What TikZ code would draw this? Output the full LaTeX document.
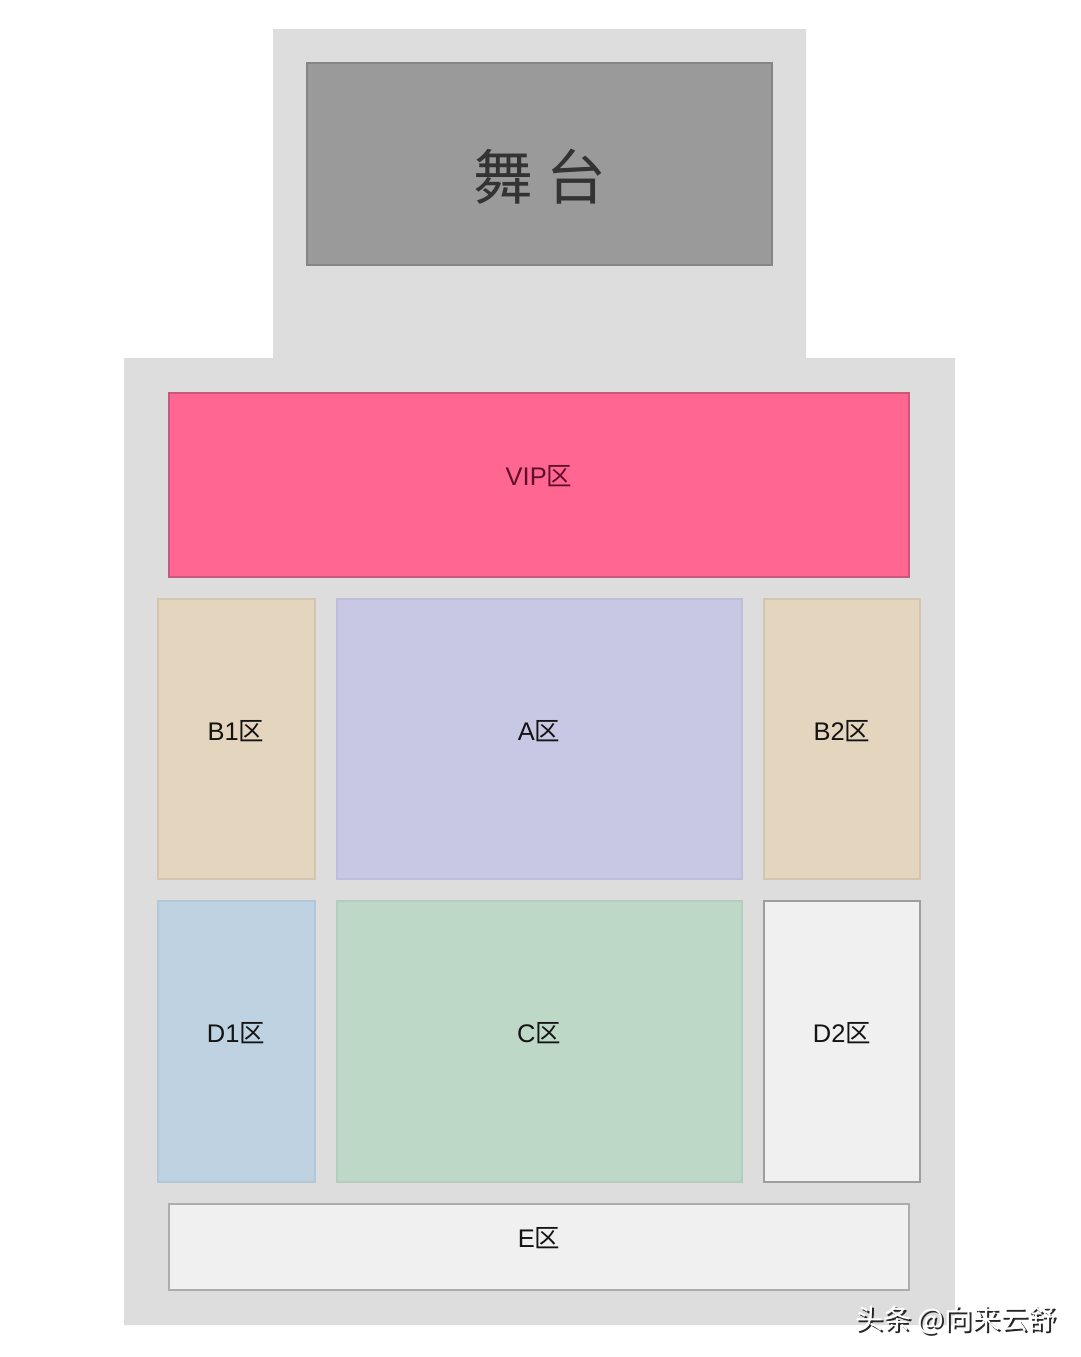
\documentclass[tikz,border=0pt]{standalone}
\usepackage{fontspec}
\setmainfont{Liberation Sans}
\newfontfamily\cjk{Noto Sans CJK SC}
\usepackage{tikz}
\usetikzlibrary{positioning}
\definecolor{hallgray}{HTML}{DDDDDD}
\definecolor{stagegray}{HTML}{9A9A9A}
\definecolor{stageline}{HTML}{858585}
\definecolor{vippink}{HTML}{FF6690}
\definecolor{vipline}{HTML}{C9587A}
\definecolor{viptext}{HTML}{5E0F2C}
\definecolor{sandzone}{HTML}{E3D5BE}
\definecolor{lilaczone}{HTML}{C8C8E4}
\definecolor{bluezone}{HTML}{BED2E2}
\definecolor{greenzone}{HTML}{BED8C8}
\definecolor{palezone}{HTML}{F0F0F0}
\tikzstyle{zone}=[line width=0.6pt]
\tikzstyle{zonelabel}=[font=\fontsize{14.5}{16}\selectfont, text=black!92]

\begin{document}
\begin{tikzpicture}[x=0.02cm, y=-0.02cm]

\useasboundingbox[fill=white] (0,0) rectangle (1080,1357);

% hall
\fill[hallgray] (273,29) -- (806,29) -- (806,358) -- (955,358) -- (955,1325)
  -- (124,1325) -- (124,358) -- (273,358) -- cycle;

% stage
\draw[zone, fill=stagegray, draw=stageline] (307,63) rectangle (772,265);
\node[font=\cjk\fontsize{34}{40}\selectfont, text=black!80] (stage) at (540,177) {舞 台};

% VIP
\draw[zone, fill=vippink, draw=vipline] (169,393) rectangle (909,577);
\node[zonelabel, text=viptext] (vip) at (539,476) {VIP\cjk{区}};

% A, B
\draw[zone, fill=sandzone, draw=sandzone!93!black] (158,599) rectangle (315,879);
\node[zonelabel] (bone) at (236,731) {B1\cjk{区}};
\draw[zone, fill=lilaczone, draw=lilaczone!95!black] (337,599) rectangle (742,879);
\node[zonelabel] (azone) at (539,731) {A\cjk{区}};
\draw[zone, fill=sandzone, draw=sandzone!93!black] (764,599) rectangle (920,879);
\node[zonelabel] (btwo) at (842,731) {B2\cjk{区}};

% C, D
\draw[zone, fill=bluezone, draw=bluezone!95!black] (158,901) rectangle (315,1182);
\node[zonelabel] (done) at (236,1033) {D1\cjk{区}};
\draw[zone, fill=greenzone, draw=greenzone!95!black] (337,901) rectangle (742,1182);
\node[zonelabel] (czone) at (539,1033) {C\cjk{区}};
\draw[zone, fill=palezone, draw=black!38] (764,901) rectangle (920,1182);
\node[zonelabel] (dtwo) at (842,1033) {D2\cjk{区}};

% E
\draw[zone, fill=palezone, draw=black!32, line width=1pt] (169,1204) rectangle (909,1290);
\node[zonelabel] (ezone) at (539,1238) {E\cjk{区}};

% watermark
\node[font=\cjk\fontsize{16}{18}\selectfont, text=black!85] at (958,1322) {头条 @向来云舒};
\node[font=\cjk\fontsize{16}{18}\selectfont, text=white] (mark) at (956,1320) {头条 @向来云舒};

\end{tikzpicture}
\end{document}
